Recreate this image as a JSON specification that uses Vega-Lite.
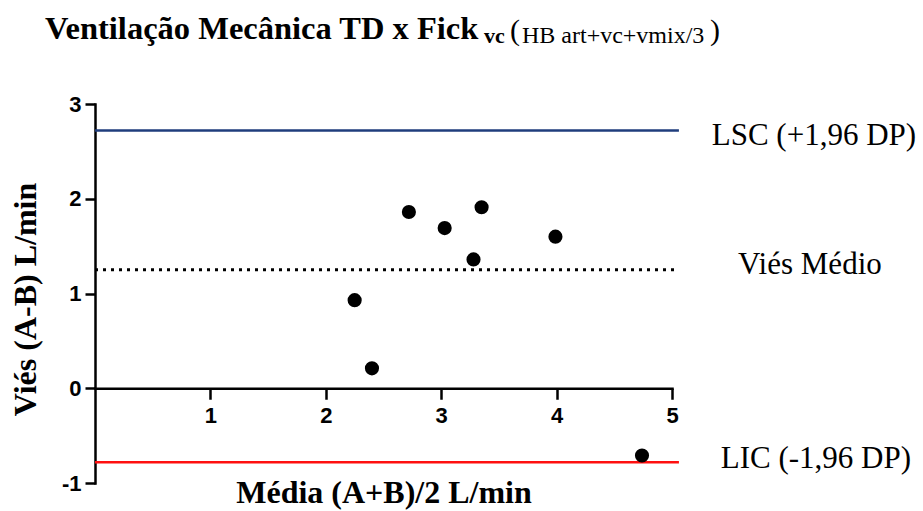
{
  "$schema": "https://vega.github.io/schema/vega-lite/v6.json",
  "autosize": "none",
  "width": 577,
  "height": 379,
  "padding": {"left": 95, "top": 104, "right": 251, "bottom": 28},
  "background": "white",
  "config": {
    "font": "Liberation Serif",
    "view": {"stroke": null},
    "axis": {
      "grid": false,
      "domainColor": "black",
      "domainWidth": 2.5,
      "domainCap": "square",
      "tickColor": "black",
      "tickWidth": 2.5,
      "labelFont": "Liberation Sans",
      "labelFontWeight": "bold",
      "labelFontSize": 22,
      "labelColor": "black",
      "labelFlush": false,
      "titleFont": "Liberation Serif",
      "titleFontWeight": "bold",
      "titleFontSize": 32,
      "titleColor": "black"
    }
  },
  "datasets": {
    "pontos": [
      {"media": 2.25, "vies": 0.93},
      {"media": 2.40, "vies": 0.21},
      {"media": 2.72, "vies": 1.86},
      {"media": 3.03, "vies": 1.69},
      {"media": 3.28, "vies": 1.36},
      {"media": 3.35, "vies": 1.91},
      {"media": 3.99, "vies": 1.60},
      {"media": 4.74, "vies": -0.71}
    ],
    "limites": [
      {"limite": "LSC (+1,96 DP)", "valor": 2.72},
      {"limite": "Viés Médio", "valor": 1.25},
      {"limite": "LIC (-1,96 DP)", "valor": -0.78}
    ]
  },
  "layer": [
    {
      "data": {"name": "limites"},
      "transform": [{"filter": "datum.limite !== 'Viés Médio'"}],
      "mark": {"type": "rule", "strokeWidth": 2.5},
      "encoding": {
        "x": {"datum": 0, "type": "quantitative"},
        "x2": {"datum": 5.06},
        "y": {"field": "valor", "type": "quantitative"},
        "color": {
          "field": "limite",
          "type": "nominal",
          "scale": {"domain": ["LSC (+1,96 DP)", "LIC (-1,96 DP)"], "range": ["#1f3d7c", "#ff1010"]},
          "legend": null
        }
      }
    },
    {
      "data": {"name": "limites"},
      "transform": [{"filter": "datum.limite === 'Viés Médio'"}],
      "mark": {"type": "rule", "strokeWidth": 3, "strokeDash": [3, 5], "color": "black"},
      "encoding": {
        "x": {"datum": 0, "type": "quantitative"},
        "x2": {"datum": 5.06},
        "y": {"field": "valor", "type": "quantitative"}
      }
    },
    {
      "data": {"name": "pontos"},
      "mark": {"type": "circle", "size": 200, "color": "black", "opacity": 1},
      "encoding": {
        "x": {
          "field": "media",
          "type": "quantitative",
          "scale": {"domain": [0, 5], "nice": false, "zero": false},
          "axis": {
            "values": [1, 2, 3, 4, 5],
            "labelExpr": "'' + datum.value",
            "offset": -94.75,
            "tickSize": 11,
            "labelPadding": 6,
            "title": "Média (A+B)/2 L/min",
            "titleY": 114,
            "titleBaseline": "alphabetic"
          }
        },
        "y": {
          "field": "vies",
          "type": "quantitative",
          "scale": {"domain": [-1, 3], "nice": false, "zero": false},
          "axis": {
            "values": [-1, 0, 1, 2, 3],
            "labelExpr": "'' + datum.value",
            "tickSize": 10,
            "labelPadding": 4,
            "title": "Viés (A-B) L/min",
            "titleX": -60,
            "titleY": 195,
            "titleAlign": "center",
            "titleBaseline": "alphabetic"
          }
        }
      }
    },
    {
      "data": {"name": "limites"},
      "transform": [{"filter": "datum.limite === 'LSC (+1,96 DP)'"}],
      "mark": {"type": "text", "font": "Liberation Serif", "fontSize": 31, "color": "black", "align": "center", "baseline": "alphabetic", "dx": 135, "dy": 14},
      "encoding": {
        "x": {"datum": 5.06, "type": "quantitative"},
        "y": {"field": "valor", "type": "quantitative"},
        "text": {"field": "limite"}
      }
    },
    {
      "data": {"name": "limites"},
      "transform": [{"filter": "datum.limite === 'Viés Médio'"}],
      "mark": {"type": "text", "font": "Liberation Serif", "fontSize": 31, "color": "black", "align": "center", "baseline": "alphabetic", "dx": 131, "dy": 4},
      "encoding": {
        "x": {"datum": 5.06, "type": "quantitative"},
        "y": {"field": "valor", "type": "quantitative"},
        "text": {"field": "limite"}
      }
    },
    {
      "data": {"name": "limites"},
      "transform": [{"filter": "datum.limite === 'LIC (-1,96 DP)'"}],
      "mark": {"type": "text", "font": "Liberation Serif", "fontSize": 31, "color": "black", "align": "center", "baseline": "alphabetic", "dx": 137, "dy": 6},
      "encoding": {
        "x": {"datum": 5.06, "type": "quantitative"},
        "y": {"field": "valor", "type": "quantitative"},
        "text": {"field": "limite"}
      }
    },
    {
      "data": {"values": [{"parte": "Ventilação Mecânica TD x Fick"}]},
      "mark": {"type": "text", "font": "Liberation Serif", "fontWeight": "bold", "fontSize": 32.5, "color": "black", "align": "left", "baseline": "alphabetic"},
      "encoding": {
        "x": {"datum": -0.433, "type": "quantitative"},
        "y": {"datum": 3.686, "type": "quantitative"},
        "text": {"field": "parte"}
      }
    },
    {
      "data": {"values": [{"parte": "vc"}]},
      "mark": {"type": "text", "font": "Liberation Serif", "fontWeight": "bold", "fontSize": 22, "color": "black", "align": "left", "baseline": "alphabetic"},
      "encoding": {
        "x": {"datum": 3.37, "type": "quantitative"},
        "y": {"datum": 3.644, "type": "quantitative"},
        "text": {"field": "parte"}
      }
    },
    {
      "data": {"values": [{"parte": "("}]},
      "mark": {"type": "text", "font": "Liberation Serif", "fontSize": 30, "color": "black", "align": "left", "baseline": "alphabetic"},
      "encoding": {
        "x": {"datum": 3.596, "type": "quantitative"},
        "y": {"datum": 3.676, "type": "quantitative"},
        "text": {"field": "parte"}
      }
    },
    {
      "data": {"values": [{"parte": "HB art+vc+vmix/3"}]},
      "mark": {"type": "text", "font": "Liberation Serif", "fontSize": 24, "color": "black", "align": "left", "baseline": "alphabetic"},
      "encoding": {
        "x": {"datum": 3.70, "type": "quantitative"},
        "y": {"datum": 3.644, "type": "quantitative"},
        "text": {"field": "parte"}
      }
    },
    {
      "data": {"values": [{"parte": ")"}]},
      "mark": {"type": "text", "font": "Liberation Serif", "fontSize": 30, "color": "black", "align": "left", "baseline": "alphabetic"},
      "encoding": {
        "x": {"datum": 5.329, "type": "quantitative"},
        "y": {"datum": 3.676, "type": "quantitative"},
        "text": {"field": "parte"}
      }
    }
  ]
}
